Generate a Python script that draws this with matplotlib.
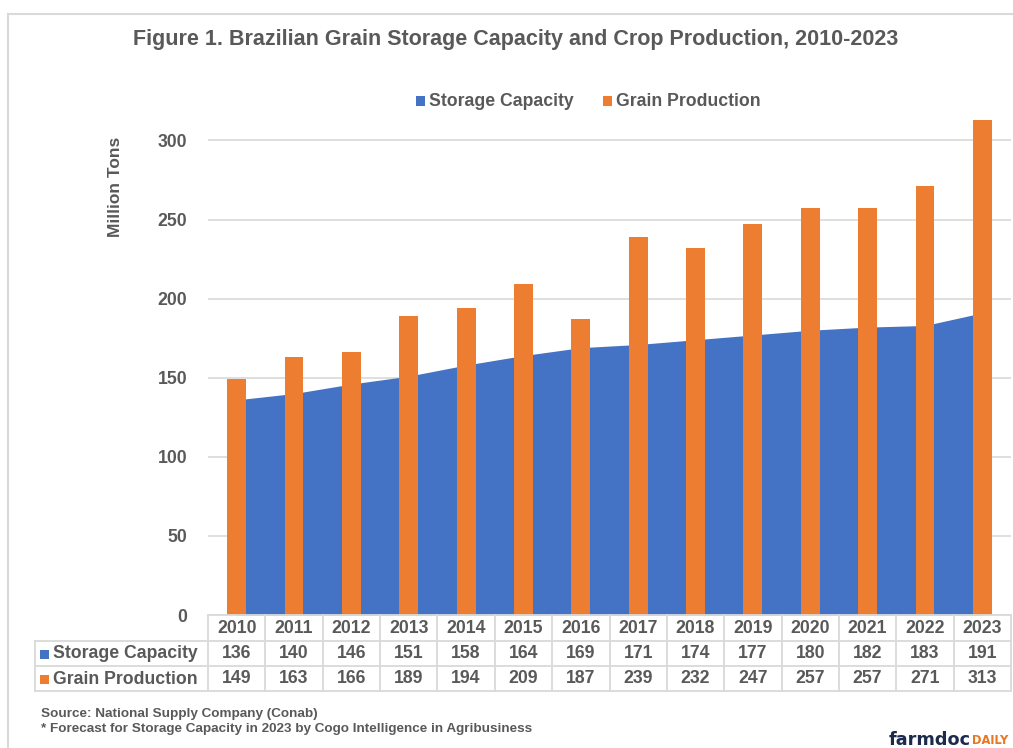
import matplotlib
matplotlib.use("Agg")
import matplotlib.pyplot as plt
from matplotlib.patches import Rectangle
from matplotlib.lines import Line2D
import numpy as np

plt.rcParams['font.family'] = ['Liberation Sans', 'DejaVu Sans']

# ---- data ----
years = ["2010", "2011", "2012", "2013", "2014", "2015", "2016",
         "2017", "2018", "2019", "2020", "2021", "2022", "2023"]
storage_capacity = [136, 140, 146, 151, 158, 164, 169, 171, 174, 177, 180, 182, 183, 191]
grain_production = [149, 163, 166, 189, 194, 209, 187, 239, 232, 247, 257, 257, 271, 313]
series_labels = ["Storage Capacity", "Grain Production"]
y_ticks = [0, 50, 100, 150, 200, 250, 300]

BLUE = "#4472C4"
ORANGE = "#ED7D31"
GRAY = "#595959"
GRID = "#D9D9D9"

W, H = 1013, 748
fig = plt.figure(figsize=(W / 100, H / 100), dpi=100)

def fx(px):
    return px / W

def fy(py):
    return 1 - py / H

# plot area geometry (pixels)
x_left, x_right = 208, 1011
y_zero = 615
px_per_unit = 1.582
ymax = 320
ax_h = ymax * px_per_unit
ax = fig.add_axes([fx(x_left), fy(y_zero), (x_right - x_left) / W, ax_h / H])

x = np.arange(len(years))
ax.fill_between(x, storage_capacity, 0, color=BLUE, linewidth=0, zorder=2)
ax.bar(x, grain_production, width=0.33, color=ORANGE, zorder=3)

ax.set_xlim(-0.5, len(years) - 0.5)
ax.set_ylim(0, ymax)
ax.set_yticks(y_ticks)
ax.set_yticklabels([str(v) for v in y_ticks], fontsize=12.7, fontweight='bold', color=GRAY)
ax.tick_params(axis='y', length=0, pad=15)
ax.set_xticks([])
ax.yaxis.grid(True, color=GRID, linewidth=1.2, zorder=0)
ax.set_axisbelow(True)
for s in ax.spines.values():
    s.set_visible(False)
ax.patch.set_alpha(0)

# y label
fig.text(fx(115), fy(187), "Million Tons", rotation=90, ha='center', va='center',
         fontsize=12.5, fontweight='bold', color=GRAY)

# title
fig.text(fx(515.5), fy(40), "Figure 1. Brazilian Grain Storage Capacity and Crop Production, 2010-2023",
         ha='center', va='center', fontsize=15.5, fontweight='bold', color=GRAY)

# legend
legend_items = [(416, series_labels[0], BLUE), (603, series_labels[1], ORANGE)]
for px, lab, col in legend_items:
    fig.patches.append(Rectangle((fx(px), fy(105.5)), 9 / W, 9 / H, transform=fig.transFigure,
                                 facecolor=col, edgecolor='none'))
    fig.text(fx(px + 13), fy(101), lab, ha='left', va='center', fontsize=12.7,
             fontweight='bold', color=GRAY)

# ---- data table ----
row_tops = [615, 641, 666, 691]
tax = fig.add_axes([fx(x_left), fy(691), (x_right - x_left) / W, (691 - 615) / H])
tax.set_xlim(-0.5, len(years) - 0.5)
tax.set_ylim(691, 615)
tax.axis('off')
cat_px = (x_right - x_left) / len(years)
label_left = -0.5 - (x_left - 35) / cat_px

tax.plot([-0.5, len(years) - 0.5], [615, 615], color=GRID, lw=1.3, clip_on=False)
for yy in row_tops[1:]:
    tax.plot([label_left, len(years) - 0.5], [yy, yy], color=GRID, lw=1.3, clip_on=False)
tax.plot([label_left, label_left], [641, 691], color=GRID, lw=1.3, clip_on=False)
for k in range(len(years) + 1):
    tax.plot([k - 0.5, k - 0.5], [615, 691], color=GRID, lw=1.3, clip_on=False)

rows = [years, [str(v) for v in storage_capacity], [str(v) for v in grain_production]]
for r, vals in enumerate(rows):
    yc = (row_tops[r] + row_tops[r + 1]) / 2 + 0.5
    for i, v in enumerate(vals):
        tax.text(i, yc, v, ha='center', va='center', fontsize=12.7,
                 fontweight='bold', color=GRAY, clip_on=False)

for r, (lab, col) in enumerate(zip(series_labels, [BLUE, ORANGE])):
    yc = (row_tops[r + 1] + row_tops[r + 2]) / 2 + 0.5
    fig.patches.append(Rectangle((fx(40), fy(yc + 4.5)), 9 / W, 9 / H, transform=fig.transFigure,
                                 facecolor=col, edgecolor='none'))
    fig.text(fx(53), fy(yc), lab, ha='left', va='center', fontsize=12.7,
             fontweight='bold', color=GRAY)

# footnotes
fig.text(fx(41), fy(714), "Source: National Supply Company (Conab)", ha='left', va='center',
         fontsize=9.7, fontweight='bold', color=GRAY)
fig.text(fx(41), fy(729), "* Forecast for Storage Capacity in 2023 by Cogo Intelligence in Agribusiness",
         ha='left', va='center', fontsize=9.7, fontweight='bold', color=GRAY)

# logo
t1 = fig.text(fx(889), fy(740), "farmdoc", ha='left', va='center', fontsize=12.7,
              fontweight='bold', color="#1C2B4B", family=['DejaVu Sans'])
fig.canvas.draw()
bb = t1.get_window_extent()
fig.text(bb.x1 / W + 0.5 / W, fy(741), "DAILY", ha='left', va='center', fontsize=8.3,
         fontweight='bold', color="#E87722", family=['DejaVu Sans'])

# border
fig.add_artist(Line2D([fx(7.5), 1], [fy(13.5), fy(13.5)], color=GRID, lw=1.5, transform=fig.transFigure))
fig.add_artist(Line2D([fx(7.5), fx(7.5)], [fy(13.5), 0], color=GRID, lw=1.5, transform=fig.transFigure))

fig.savefig("out.png", dpi=100)
